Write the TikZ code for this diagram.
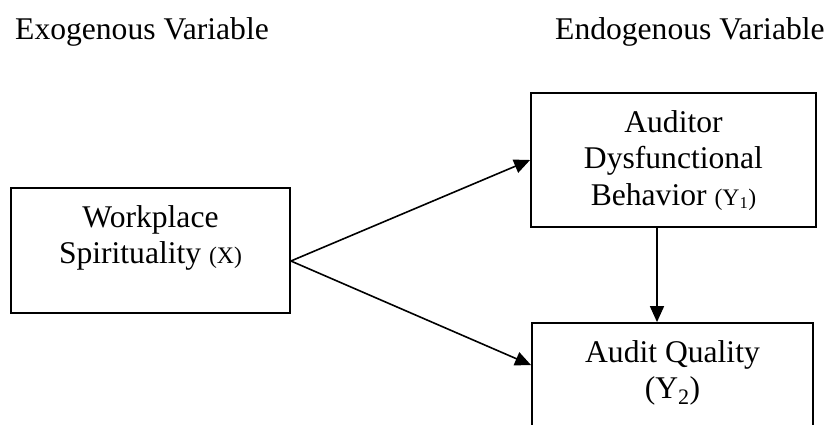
\documentclass[tikz,border=0pt]{standalone}
\usepackage{fontspec}
\setmainfont{Liberation Serif}
\usepackage{tikz}
\usetikzlibrary{positioning,arrows.meta}

\begin{document}
\begin{tikzpicture}[x=1pt,y=-1pt,
		varbox/.style={draw,line width=1.8pt,inner sep=0pt},
		vartext/.style={align=center,inner sep=0pt,font=\fontsize{31.6}{36.5}\selectfont},
		heading/.style={inner sep=0pt,anchor=base west,font=\fontsize{31.6}{36.5}\selectfont},
		link/.style={line width=1.6pt,-{Triangle[length=16pt,width=14pt]}}]
		\useasboundingbox (0,0) rectangle (828,424);
		% headings
		\node[heading] (exo) at (15,39) {Exogenous Variable};
		\node[heading] (endo) at (555,39) {Endogenous Variable};
		% boxes
		\node[varbox,minimum width=279pt,minimum height=125pt] (ws) at (150.5,250.5) {};
		\node[varbox,minimum width=285pt,minimum height=134pt] (ad) at (673.5,160) {};
		\node[varbox,minimum width=281pt,minimum height=134pt] (aq) at (672.5,390) {};
		\node[vartext,below=18pt of ws.north] (wstext) {Workplace\\Spirituality {\fontsize{23.7}{28}\selectfont(X)}};
		\node[vartext,below=18pt of ad.north] (adtext) {Auditor\\Dysfunctional\\Behavior {\fontsize{23.7}{28}\selectfont(Y\textsubscript{1})}};
		\node[vartext,below=18pt of aq.north] (aqtext) {Audit Quality\\(Y\textsubscript{2})};
		% arrows
		\coordinate (fork) at ([yshift=-10.5pt]ws.east);
		\coordinate (tipq) at ([yshift=-43pt]aq.north west);
		\coordinate (down) at ([xshift=-16.5pt]ad.south);
		\draw[link] (fork) -- (ad.west);
		\draw[link] (fork) -- (tipq);
		\draw[link] (down) -- (down |- aq.north);
\end{tikzpicture}
\end{document}
